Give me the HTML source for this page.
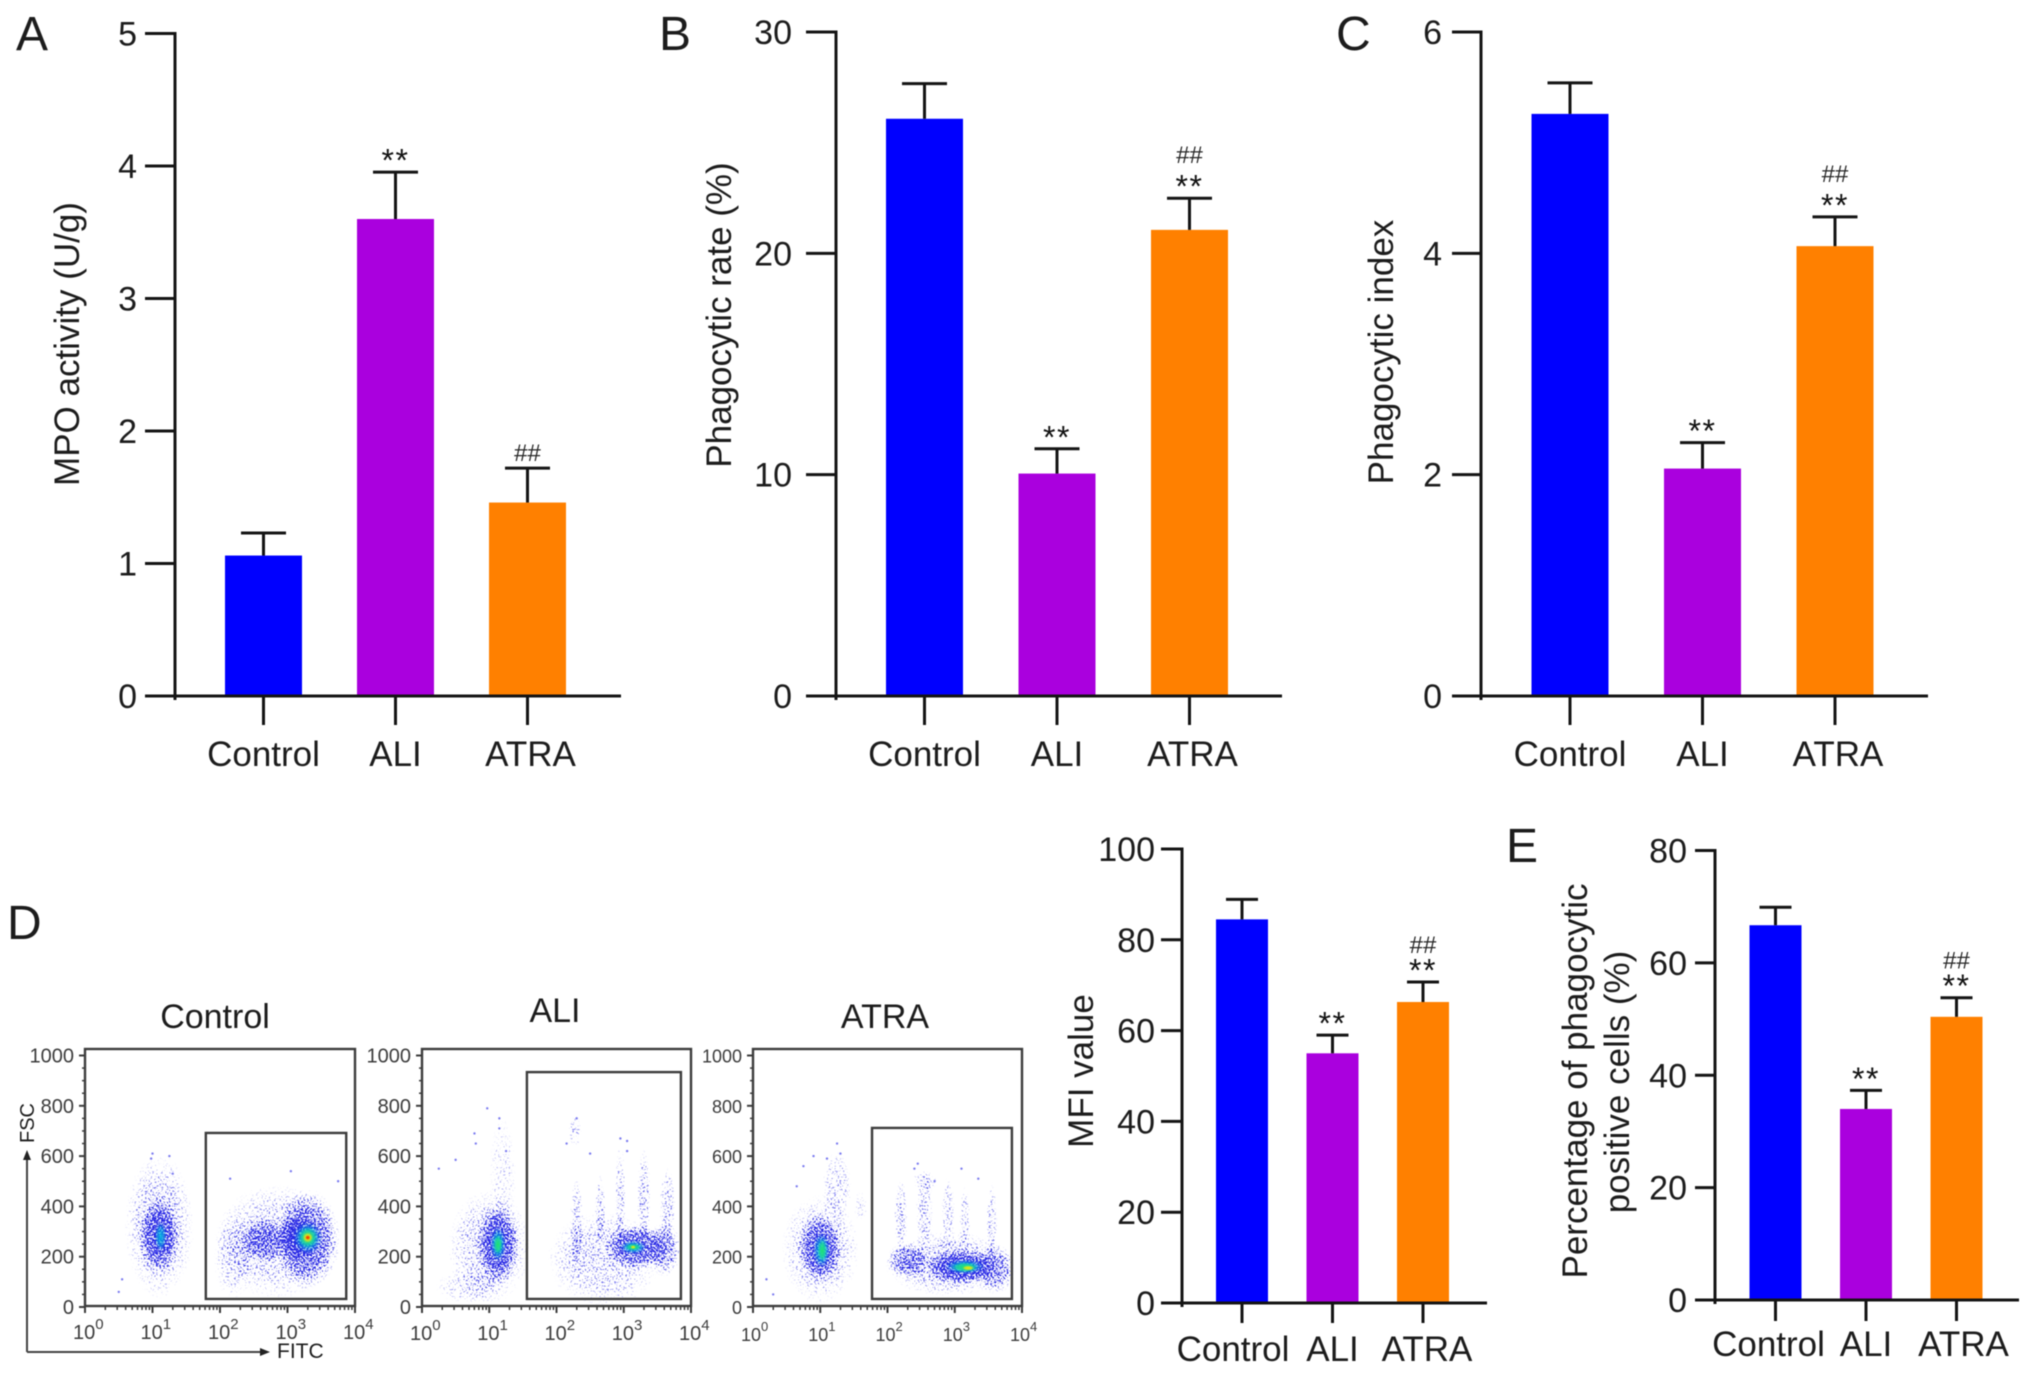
<!DOCTYPE html>
<html lang="en">
<head>
<meta charset="utf-8">
<title>MPO activity and phagocytosis bar charts with flow cytometry plots</title>
<style>
html,body{margin:0;padding:0;background:#fff;}
svg{display:block;filter:blur(0.5px);}
text{font-family:"Liberation Sans",Arial,sans-serif;fill:#1c1c1c;}
</style>
</head>
<body>
<svg id="figure" xmlns="http://www.w3.org/2000/svg" width="2032" height="1374" viewBox="0 0 2032 1374">
<defs>
<radialGradient id="blob-fade"><stop offset="0" stop-color="#fff" stop-opacity="1"/><stop offset="0.6" stop-color="#fff" stop-opacity="0.8"/><stop offset="1" stop-color="#fff" stop-opacity="0"/></radialGradient>
<radialGradient id="hot-1"><stop offset="0" stop-color="#00c0e0" stop-opacity="0.9"/><stop offset="0.6" stop-color="#00a0e0" stop-opacity="0.55"/><stop offset="1" stop-color="#0060e0" stop-opacity="0"/></radialGradient>
<radialGradient id="hot-2"><stop offset="0" stop-color="#20e070" stop-opacity="1"/><stop offset="0.6" stop-color="#20e090" stop-opacity="0.75"/><stop offset="1" stop-color="#00d0b0" stop-opacity="0"/></radialGradient>
<radialGradient id="hot-3"><stop offset="0" stop-color="#f0e800" stop-opacity="1"/><stop offset="0.6" stop-color="#d8e820" stop-opacity="0.8"/><stop offset="1" stop-color="#a0e040" stop-opacity="0"/></radialGradient>
<radialGradient id="hot-4"><stop offset="0" stop-color="#f02000" stop-opacity="1"/><stop offset="0.6" stop-color="#ff5000" stop-opacity="0.85"/><stop offset="1" stop-color="#ffa000" stop-opacity="0"/></radialGradient>
<filter id="speckle" x="-5%" y="-5%" width="110%" height="110%" color-interpolation-filters="sRGB">
<feColorMatrix in="SourceAlpha" type="matrix" values="0 0 0 0 1  0 0 0 0 1  0 0 0 0 1  0 0 0 1 0" result="src"/>
<feColorMatrix in="SourceAlpha" type="matrix" values="0 0 0 0 0  0 0 0 0 0  0 0 0 0 0  0 0 0 40 0" result="footprint"/>
<feTurbulence type="fractalNoise" baseFrequency="0.55" numOctaves="2" seed="7"/>
<feColorMatrix type="matrix" values="0 0 0 0 1  0 0 0 0 1  0 0 0 0 1  2.6 0 0 0 -0.8" result="noise"/>
<feComposite in="src" in2="noise" operator="arithmetic" k1="0" k2="2.2" k3="2.2" k4="-2.2" result="mask"/>
<feComposite in="mask" in2="footprint" operator="in" result="clipped"/>
<feFlood flood-color="#2424e4"/>
<feComposite in2="clipped" operator="in"/>
<feGaussianBlur stdDeviation="0.35"/>
</filter>
</defs>
<text x="16" y="50" font-size="48">A</text>
<text x="659" y="50" font-size="48">B</text>
<text x="1336" y="50" font-size="48">C</text>
<text x="7" y="939" font-size="48">D</text>
<text x="1506" y="862" font-size="48">E</text>
</svg>
<script>
const categories = ['Control', 'ALI', 'ATRA'];
const barColors = ['#0000ff', '#aa00de', '#ff8000'];

const mpoMeans = [1.06, 3.60, 1.46];
const mpoErrors = [0.17, 0.354, 0.26];
const mpoTicks = [0, 1, 2, 3, 4, 5];
const mpoMarks = [[], ['**'], ['##']];

const rateMeans = [26.08, 10.05, 21.06];
const rateErrors = [1.59, 1.12, 1.43];
const rateTicks = [0, 10, 20, 30];
const rateMarks = [[], ['**'], ['**', '##']];

const indexMeans = [5.26, 2.055, 4.065];
const indexErrors = [0.28, 0.235, 0.265];
const indexTicks = [0, 2, 4, 6];
const indexMarks = [[], ['**'], ['**', '##']];

const mfiMeans = [84.5, 55.0, 66.3];
const mfiErrors = [4.4, 4.0, 4.4];
const mfiTicks = [0, 20, 40, 60, 80, 100];
const mfiMarks = [[], ['**'], ['**', '##']];

const positiveMeans = [66.7, 34.0, 50.4];
const positiveErrors = [3.2, 3.3, 3.4];
const positiveTicks = [0, 20, 40, 60, 80];
const positiveMarks = [[], ['**'], ['**', '##']];

const fscTicks = [0, 200, 400, 600, 800, 1000];
const fitcDecades = [0, 1, 2, 3, 4];
const fitcMinorMultipliers = [2, 3, 4, 5, 6, 7, 8, 9];

/* density summaries: log10 FITC, FSC, half-width (decades), half-height (FSC), density */
const controlDensity = [
  [1.1, 320, 0.52, 290, 0.42], [1.1, 285, 0.30, 150, 0.85],
  [2.85, 260, 0.95, 230, 0.38], [3.3, 270, 0.48, 200, 0.72],
  [2.65, 265, 0.35, 90, 0.7], [3.15, 275, 0.30, 100, 0.9], [2.2, 200, 0.3, 170, 0.28]
];
/* hot cores: log10 FITC, FSC, half-width, half-height, colour level */
const controlCores = [
  [1.12, 280, 0.09, 60, 1],
  [3.3, 275, 0.22, 65, 1], [3.3, 276, 0.15, 42, 2], [3.3, 276, 0.08, 22, 3], [3.3, 276, 0.04, 10, 4]
];
const controlGate = [1.79, 3.87, 32, 692];
const controlOutliers = [[1.0, 610], [1.25, 600], [0.55, 110], [0.5, 60], [3.05, 540], [3.75, 500], [2.15, 510], [0.98, 590], [1.3, 530]];

const aliDensity = [
  [1.0, 240, 0.62, 230, 0.38], [1.13, 250, 0.32, 160, 0.85], [0.7, 80, 0.5, 70, 0.25], [1.2, 520, 0.2, 240, 0.18],
  [2.7, 190, 0.85, 190, 0.36], [3.2, 240, 0.5, 90, 0.8], [3.6, 230, 0.25, 110, 0.6],
  [2.3, 320, 0.1, 200, 0.36], [2.65, 380, 0.08, 150, 0.36], [2.95, 430, 0.08, 220, 0.36],
  [3.3, 430, 0.1, 200, 0.4], [3.65, 400, 0.12, 160, 0.36], [2.28, 700, 0.1, 60, 0.3]
];
const aliCores = [
  [1.13, 250, 0.12, 70, 1], [1.13, 248, 0.07, 40, 2],
  [3.14, 238, 0.2, 28, 1], [3.14, 238, 0.12, 15, 2], [3.14, 238, 0.04, 7, 3]
];
const aliGate = [1.56, 3.85, 32, 934];
const aliOutliers = [[0.97, 790], [1.15, 750], [1.15, 710], [0.78, 690], [0.25, 550], [0.5, 585], [0.8, 650], [1.25, 620], [2.3, 750], [2.15, 650], [2.95, 670], [3.05, 660], [3.05, 620], [2.5, 610]];

const atraDensity = [
  [1.0, 230, 0.58, 220, 0.38], [1.0, 235, 0.33, 140, 0.8], [1.25, 480, 0.22, 140, 0.3], [1.6, 400, 0.1, 60, 0.18],
  [2.9, 170, 0.95, 130, 0.45], [3.1, 160, 0.55, 70, 0.9], [2.3, 185, 0.32, 70, 0.6], [3.6, 150, 0.3, 100, 0.6],
  [2.2, 360, 0.1, 150, 0.36], [2.55, 380, 0.13, 170, 0.36], [2.9, 370, 0.1, 150, 0.32],
  [3.15, 340, 0.08, 140, 0.32], [3.55, 330, 0.08, 170, 0.36], [2.55, 500, 0.2, 40, 0.26]
];
const atraCores = [
  [1.02, 225, 0.13, 70, 1], [1.03, 225, 0.07, 45, 2],
  [3.15, 160, 0.3, 30, 1], [3.15, 158, 0.2, 20, 2], [3.2, 155, 0.09, 10, 3]
];
const atraGate = [1.77, 3.85, 32, 712];
const atraOutliers = [[1.25, 650], [1.3, 610], [1.1, 590], [0.9, 600], [0.75, 560], [0.65, 480], [0.2, 110], [2.4, 550], [2.45, 570], [3.1, 550], [3.35, 510], [2.7, 500], [0.3, 50]];

const NS = 'http://www.w3.org/2000/svg';
const figure = document.getElementById('figure');

function mk(tag, attrs, parent) {
  const el = document.createElementNS(NS, tag);
  for (const k in attrs) el.setAttribute(k, attrs[k]);
  parent.appendChild(el);
  return el;
}

function drawBarChart(c) {
  const g = mk('g', {}, figure);
  
  
  const yScale = v => c.y0 - (v / c.domainMax) * (c.y0 - c.yTop);
  const xScale = i => c.x0 + i * c.step;
  const ink = '#141414';

  c.categories.forEach((cat, i) => {
    const top = yScale(c.means[i]);
    const bar = mk('rect', { x: xScale(i) - c.barW / 2, y: top, width: c.barW, height: c.y0 - top, fill: barColors[i] }, g);
    
    

    const errTop = yScale(c.means[i] + c.errors[i]);
    const stem = mk('line', { x1: xScale(i), x2: xScale(i), y1: top, y2: errTop, stroke: ink, 'stroke-width': 3 }, g);
    
    
    const cap = mk('line', { x1: xScale(i) - c.capW / 2, x2: xScale(i) + c.capW / 2, y1: errTop, y2: errTop, stroke: ink, 'stroke-width': 3 }, g);
    
    

    c.marks[i].forEach((m, j) => {
      const isHash = m === '##';
      const centerY = errTop - (j === 0 ? 15 : c.stackGap);
      const t = mk('text', {
        x: xScale(i), y: isHash ? centerY + 8 : centerY + 14.5,
        'font-size': isHash ? 24 : 32, 'text-anchor': 'middle'
      }, g);
      t.textContent = m;
      t.style.fill = isHash ? '#262626' : '#111';
      if (!isHash) t.setAttribute('letter-spacing', '1.5');
      
      
    });

    const tick = mk('line', { x1: xScale(i), x2: xScale(i), y1: c.y0, y2: c.y0 + c.xTickLen, stroke: ink, 'stroke-width': 3 }, g);
    
    
    const label = mk('text', { x: xScale(i) + c.labelShift[i], y: c.xLabelY, 'font-size': 35, 'text-anchor': 'middle' }, g);
    label.textContent = cat;
    
    
  });

  const yAxis = mk('line', { x1: c.axisX, x2: c.axisX, y1: c.yTop - 1.5, y2: c.y0 + 4, stroke: ink, 'stroke-width': 3 }, g);
  
  
  const xAxis = mk('line', { x1: c.axisX - c.yTickLen, x2: c.xEnd, y1: c.y0, y2: c.y0, stroke: ink, 'stroke-width': 3 }, g);
  
  

  c.ticks.forEach(v => {
    const ty = yScale(v);
    const tick = mk('line', { x1: c.axisX - c.yTickLen, x2: c.axisX, y1: ty, y2: ty, stroke: ink, 'stroke-width': 3 }, g);
    
    
    const label = mk('text', { x: c.axisX - c.yTickLen - c.labelGap, y: ty + 12, 'font-size': 34, 'text-anchor': 'end' }, g);
    label.textContent = String(v);
    
    
  });

  c.titles.forEach((tt, i) => {
    const t = mk('text', { x: tt[1], y: tt[2], 'font-size': 35, 'text-anchor': 'middle', transform: 'rotate(-90 ' + tt[1] + ' ' + tt[2] + ')' }, g);
    t.textContent = tt[0];
    
    
  });
}

function drawFlow(c) {
  const g = mk('g', {}, figure);
  
  
  const xScale = d => c.x0 + d * c.decade;
  const yScale = v => c.y0 - v * 0.2515;
  const ink = '#3c3c3c';

  const stipple = mk('g', { filter: 'url(#speckle)' }, g);
  
  
  c.density.forEach(d => {
    const e = mk('ellipse', { cx: xScale(d[0]), cy: yScale(d[1]), rx: d[2] * c.decade, ry: d[3] * 0.2515, fill: 'url(#blob-fade)', opacity: d[4] }, stipple);
    
    
  });
  c.cores.forEach(d => {
    const e = mk('ellipse', { cx: xScale(d[0]), cy: yScale(d[1]), rx: d[2] * c.decade, ry: d[3] * 0.2515, fill: 'url(#hot-' + d[4] + ')' }, g);
    
    
  });
  c.outliers.forEach(d => {
    const e = mk('circle', { cx: xScale(d[0]), cy: yScale(d[1]), r: 1.2, fill: '#7c7cf0' }, g);
    
    
  });

  const box = mk('rect', { x: xScale(0), y: 1049, width: xScale(4) - xScale(0), height: 257, fill: 'none', stroke: ink, 'stroke-width': 2.4 }, g);
  
  
  const gate = mk('rect', { x: xScale(c.gate[0]), y: yScale(c.gate[3]), width: xScale(c.gate[1]) - xScale(c.gate[0]), height: yScale(c.gate[2]) - yScale(c.gate[3]), fill: 'none', stroke: ink, 'stroke-width': 2.4 }, g);
  
  

  fscTicks.forEach(v => {
    const tick = mk('line', { x1: xScale(0) - 6, x2: xScale(0), y1: yScale(v), y2: yScale(v), stroke: ink, 'stroke-width': 2 }, g);
    
    
    const label = mk('text', { x: xScale(0) - 11, y: yScale(v) + 7, 'font-size': c.tickFont, 'text-anchor': 'end' }, g);
    label.textContent = String(v);
    label.style.fill = '#3c3c3c';
    
    
    if (v < 1000) {
      [50, 100, 150].forEach(step => {
        const minor = mk('line', { x1: xScale(0) - 3, x2: xScale(0), y1: yScale(v + step), y2: yScale(v + step), stroke: ink, 'stroke-width': 1.5 }, g);
        
        
      });
    }
  });

  fitcDecades.forEach(d => {
    const tick = mk('line', { x1: xScale(d), x2: xScale(d), y1: c.y0 - 1, y2: c.y0 + 6, stroke: ink, 'stroke-width': 2 }, g);
    
    
    const label = mk('text', { x: xScale(d) - 12, y: c.xLabelY, 'font-size': c.tickFont }, g);
    label.style.fill = '#3c3c3c';
    
    
    const base = mk('tspan', {}, label);
    base.textContent = '10';
    const exp = mk('tspan', { dy: -10, 'font-size': c.tickFont - 5 }, label);
    exp.textContent = String(d);
    if (d < 4) {
      fitcMinorMultipliers.forEach(m => {
        const mx = xScale(d + Math.log10(m));
        const minor = mk('line', { x1: mx, x2: mx, y1: c.y0 - 1, y2: c.y0 + 3, stroke: ink, 'stroke-width': 1.5 }, g);
        
        
      });
    }
  });

  const title = mk('text', { x: c.titleX, y: c.titleY, 'font-size': 34, 'text-anchor': 'middle' }, g);
  title.textContent = c.title;
  
  
}

drawBarChart({
  name: 'mpo', categories, means: mpoMeans, errors: mpoErrors, marks: mpoMarks, ticks: mpoTicks, domainMax: 5,
  axisX: 175, x0: 263.5, step: 132, barW: 77, capW: 45, y0: 696, yTop: 33.5, xEnd: 621,
  yTickLen: 30, xTickLen: 29, labelGap: 8, xLabelY: 766, stackGap: 43, labelShift: [0, 0, 3],
  titles: [['MPO activity (U/g)', 79, 344]]
});
drawBarChart({
  name: 'phagocytic-rate', categories, means: rateMeans, errors: rateErrors, marks: rateMarks, ticks: rateTicks, domainMax: 30,
  axisX: 836, x0: 924.5, step: 132.5, barW: 77, capW: 45, y0: 696, yTop: 32, xEnd: 1282,
  yTickLen: 30, xTickLen: 29, labelGap: 14, xLabelY: 766, stackGap: 43, labelShift: [0, 0, 3],
  titles: [['Phagocytic rate (%)', 731, 315]]
});
drawBarChart({
  name: 'phagocytic-index', categories, means: indexMeans, errors: indexErrors, marks: indexMarks, ticks: indexTicks, domainMax: 6,
  axisX: 1481, x0: 1570, step: 132.5, barW: 77, capW: 45, y0: 696, yTop: 32, xEnd: 1928,
  yTickLen: 29, xTickLen: 29, labelGap: 10, xLabelY: 766, stackGap: 43, labelShift: [0, 0, 3],
  titles: [['Phagocytic index', 1393, 352]]
});
drawBarChart({
  name: 'mfi', categories, means: mfiMeans, errors: mfiErrors, marks: mfiMarks, ticks: mfiTicks, domainMax: 100,
  axisX: 1182, x0: 1242, step: 90.5, barW: 52, capW: 32, y0: 1303, yTop: 849, xEnd: 1487,
  yTickLen: 21, xTickLen: 20, labelGap: 6, xLabelY: 1361, stackGap: 37, labelShift: [-9, 0, 4],
  titles: [['MFI value', 1093, 1071]]
});
drawBarChart({
  name: 'positive-cells', categories, means: positiveMeans, errors: positiveErrors, marks: positiveMarks, ticks: positiveTicks, domainMax: 80,
  axisX: 1715, x0: 1775.5, step: 90.5, barW: 52, capW: 32, y0: 1300, yTop: 850.5, xEnd: 2019,
  yTickLen: 20, xTickLen: 21, labelGap: 8, xLabelY: 1356, stackGap: 37, labelShift: [-7, 0, 7],
  titles: [['Percentage of phagocytic', 1587, 1081], ['positive cells (%)', 1629, 1082]]
});

drawFlow({ name: 'control', title: 'Control', titleX: 215, titleY: 1028, x0: 85, decade: 67.5, y0: 1307, tickFont: 20, xLabelY: 1339,
  density: controlDensity, cores: controlCores, gate: controlGate, outliers: controlOutliers });
drawFlow({ name: 'ali', title: 'ALI', titleX: 555, titleY: 1022, x0: 422, decade: 67.25, y0: 1307, tickFont: 20, xLabelY: 1340,
  density: aliDensity, cores: aliCores, gate: aliGate, outliers: aliOutliers });
drawFlow({ name: 'atra', title: 'ATRA', titleX: 885, titleY: 1028, x0: 753, decade: 67.25, y0: 1307, tickFont: 18, xLabelY: 1341,
  density: atraDensity, cores: atraCores, gate: atraGate, outliers: atraOutliers });

const shared = mk('g', {}, figure);


const fscArrow = mk('path', { d: 'M27 1352 V1158', fill: 'none', stroke: '#444', 'stroke-width': 2 }, shared);


const fscHead = mk('path', { d: 'M27 1150 L23 1160 H31 Z', fill: '#222' }, shared);


const fitcArrow = mk('path', { d: 'M27 1352 H262', fill: 'none', stroke: '#444', 'stroke-width': 2 }, shared);


const fitcHead = mk('path', { d: 'M270 1352 L260 1348 V1356 Z', fill: '#222' }, shared);


const fscLabel = mk('text', { x: 34, y: 1123, 'font-size': 20, 'text-anchor': 'middle', transform: 'rotate(-90 34 1123)' }, shared);
fscLabel.textContent = 'FSC';


const fitcLabel = mk('text', { x: 277, y: 1358, 'font-size': 21 }, shared);
fitcLabel.textContent = 'FITC';


</script>
</body>
</html>
